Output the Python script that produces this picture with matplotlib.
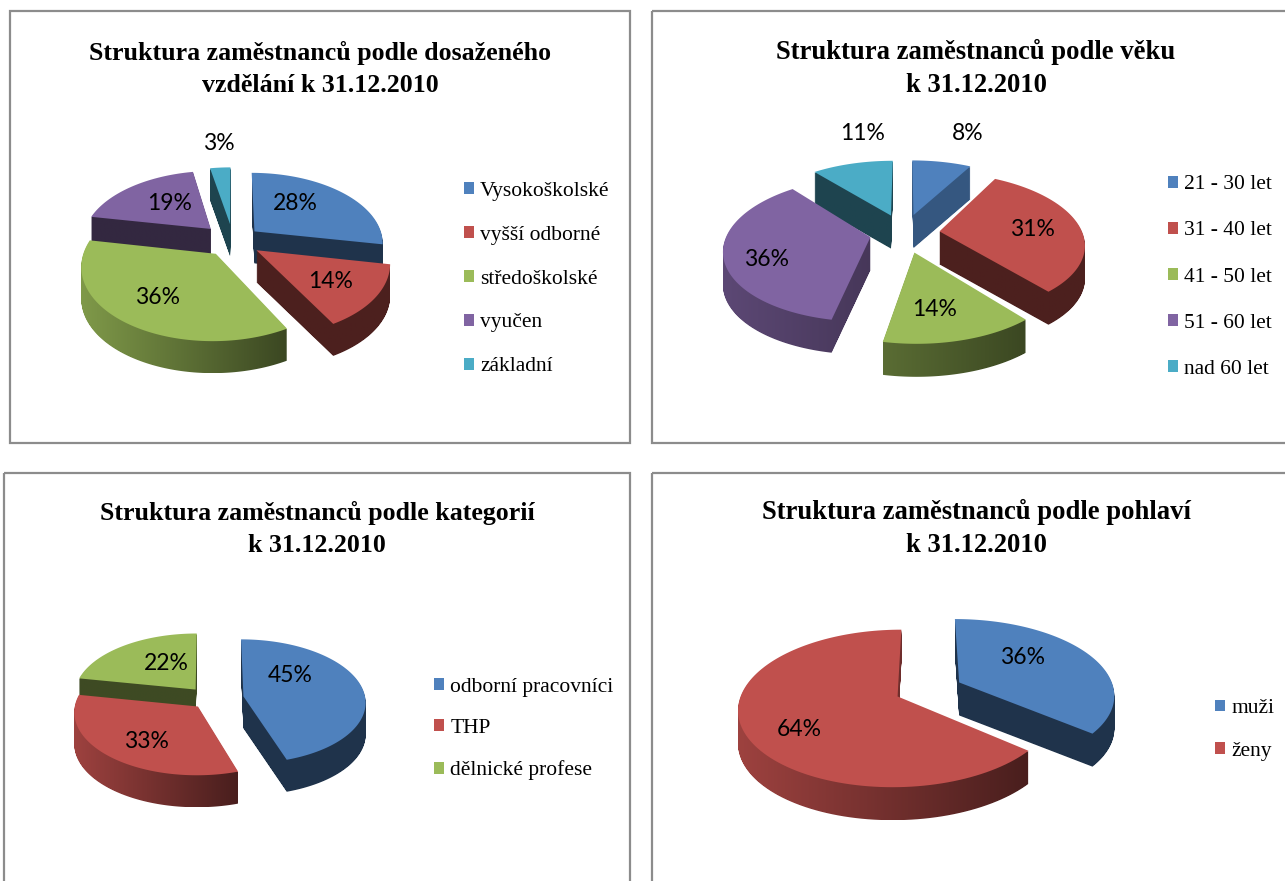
import numpy as np
import matplotlib
matplotlib.use("Agg")
import matplotlib.pyplot as plt
from matplotlib.colors import LinearSegmentedColormap, to_rgb
from matplotlib.patches import PathPatch, Rectangle
from matplotlib.path import Path

W, H = 1285, 881

colors = ["#4f81bd", "#c0504d", "#9bbb59", "#8064a2", "#4bacc6"]

vzdelani_labels = ["Vysokoškolské", "vyšší odborné", "středoškolské", "vyučen", "základní"]
vzdelani_values = [28, 14, 36, 19, 3]

vek_labels = ["21 - 30 let", "31 - 40 let", "41 - 50 let", "51 - 60 let", "nad 60 let"]
vek_values = [8, 31, 14, 36, 11]

kategorie_labels = ["odborní pracovníci", "THP", "dělnické profese"]
kategorie_values = [45, 33, 22]

pohlavi_labels = ["muži", "ženy"]
pohlavi_values = [36, 64]

plt.rcParams["font.family"] = "Liberation Serif"
fig = plt.figure(figsize=(W / 100, H / 100), dpi=100)
ax = fig.add_axes([0, 0, 1, 1])


def scaled(c, f):
    return tuple(v * f for v in to_rgb(c))


def draw_pie(values, labels, title, title_pos, title_size, title_gap, frame, center, rx, ry, k,
             depth, explode, pct_pos, leg_pos, leg_space, shades={}):
    # frame
    ax.add_patch(Rectangle((frame[0], frame[1]), frame[2] - frame[0], frame[3] - frame[1],
                           fill=False, ec="#8c8c8c", lw=1.6, zorder=0))
    ax.text(title_pos[0], title_pos[1], title, ha="center", va="center", fontsize=title_size,
            fontweight="bold", linespacing=title_gap, zorder=5)

    wedges, _ = ax.pie(values, explode=explode, startangle=90, counterclock=False,
                       colors=colors[:len(values)])
    handles = []
    for i, w in enumerate(wedges):
        t = np.radians(np.linspace(w.theta1, w.theta2, 120))
        x = np.r_[w.center[0], w.center[0] + w.r * np.cos(t)]
        y = np.r_[w.center[1], w.center[1] + w.r * np.sin(t)]
        bottom_left = w.theta1 < -90 and w.theta2 > -180
        theta_fill = w.get_facecolor()
        w.remove()

        # simple perspective, the back of the pie is smaller than the front
        s = 1 + k * y
        px = center[0] + rx * x / s
        py = center[1] - ry * y / s
        pts = np.column_stack([px, py])

        # side: the top face repeated downwards
        stack = [Path(np.vstack([pts + [0, d], pts[0] + [0, d]]), closed=True)
                 for d in np.arange(1, depth + 1)]
        side = Path.make_compound_path(*stack)
        f0, f1 = (0.82, 0.38) if bottom_left else (0.4, 0.4)
        f0, f1 = shades.get(i, (f0, f1))
        cmap = LinearSegmentedColormap.from_list("side", [scaled(colors[i], f0),
                                                          scaled(colors[i], f1)])
        im = ax.imshow(np.linspace(0, 1, 256)[None, :], cmap=cmap, aspect="auto", zorder=1,
                       extent=(px.min(), px.max(), py.max() + depth, py.min()))
        im.set_clip_path(side, transform=ax.transData)

        top = PathPatch(Path(np.vstack([pts, pts[0]]), closed=True), fc=theta_fill, ec="none",
                        zorder=2)
        ax.add_patch(top)
        handles.append(top)

        ax.text(pct_pos[i][0], pct_pos[i][1], f"{values[i]}%", family="Lato", fontsize=16.5,
                ha="center", va="center", zorder=4)

    fig.legend(handles, labels, loc="center left", bbox_to_anchor=leg_pos,
               bbox_transform=ax.transData, frameon=False, fontsize=15.5, handlelength=0.47,
               handleheight=0.47, handletextpad=0.28, labelspacing=leg_space, borderpad=0,
               borderaxespad=0)


draw_pie(vzdelani_values, vzdelani_labels,
         "Struktura zaměstnanců podle dosaženého\nvzdělání k 31.12.2010", (320, 69), 18.6, 1.55,
         (10, 11, 630, 443), (233, 241), 129, 70, 0.15, 32,
         [0.22, 0.22, 0.22, 0.25, 0.25],
         [(295, 204), (331, 281), (158, 298), (170, 204), (219, 144)],
         (464, 279), 1.16)

draw_pie(vek_values, vek_labels,
         "Struktura zaměstnanců podle věku\nk 31.12.2010", (976, 68), 19.2, 1.42,
         (652, 11, 1300, 443), (904, 233), 143, 69, 0.164, 33,
         [0.28, 0.25, 0.28, 0.24, 0.28],
         [(968, 134), (1032, 229), (935, 310), (767, 259), (863, 134)],
         (1168, 277), 1.26, {0: (0.68, 0.68), 2: (0.58, 0.38), 3: (0.72, 0.55)})

draw_pie(kategorie_values, kategorie_labels,
         "Struktura zaměstnanců podle kategorií\nk 31.12.2010", (317, 529), 18.6, 1.55,
         (4, 473, 630, 900), (211, 699), 122, 62, 0.08, 32,
         [0.27, 0.16, 0.2],
         [(290, 676), (146, 742), (166, 663)],
         (434, 729), 1.04)

draw_pie(pohlavi_values, pohlavi_labels,
         "Struktura zaměstnanců podle pohlaví\nk 31.12.2010", (976, 528), 19.2, 1.42,
         (652, 473, 1300, 900), (926, 690), 155, 75, 0.15, 33,
         [0.24, 0.2],
         [(1023, 658), (799, 729)],
         (1215, 730), 1.1)

ax.set_aspect("auto")
ax.set_xlim(0, W)
ax.set_ylim(H, 0)
ax.axis("off")
fig.savefig("out.png", dpi=100, facecolor="white")
